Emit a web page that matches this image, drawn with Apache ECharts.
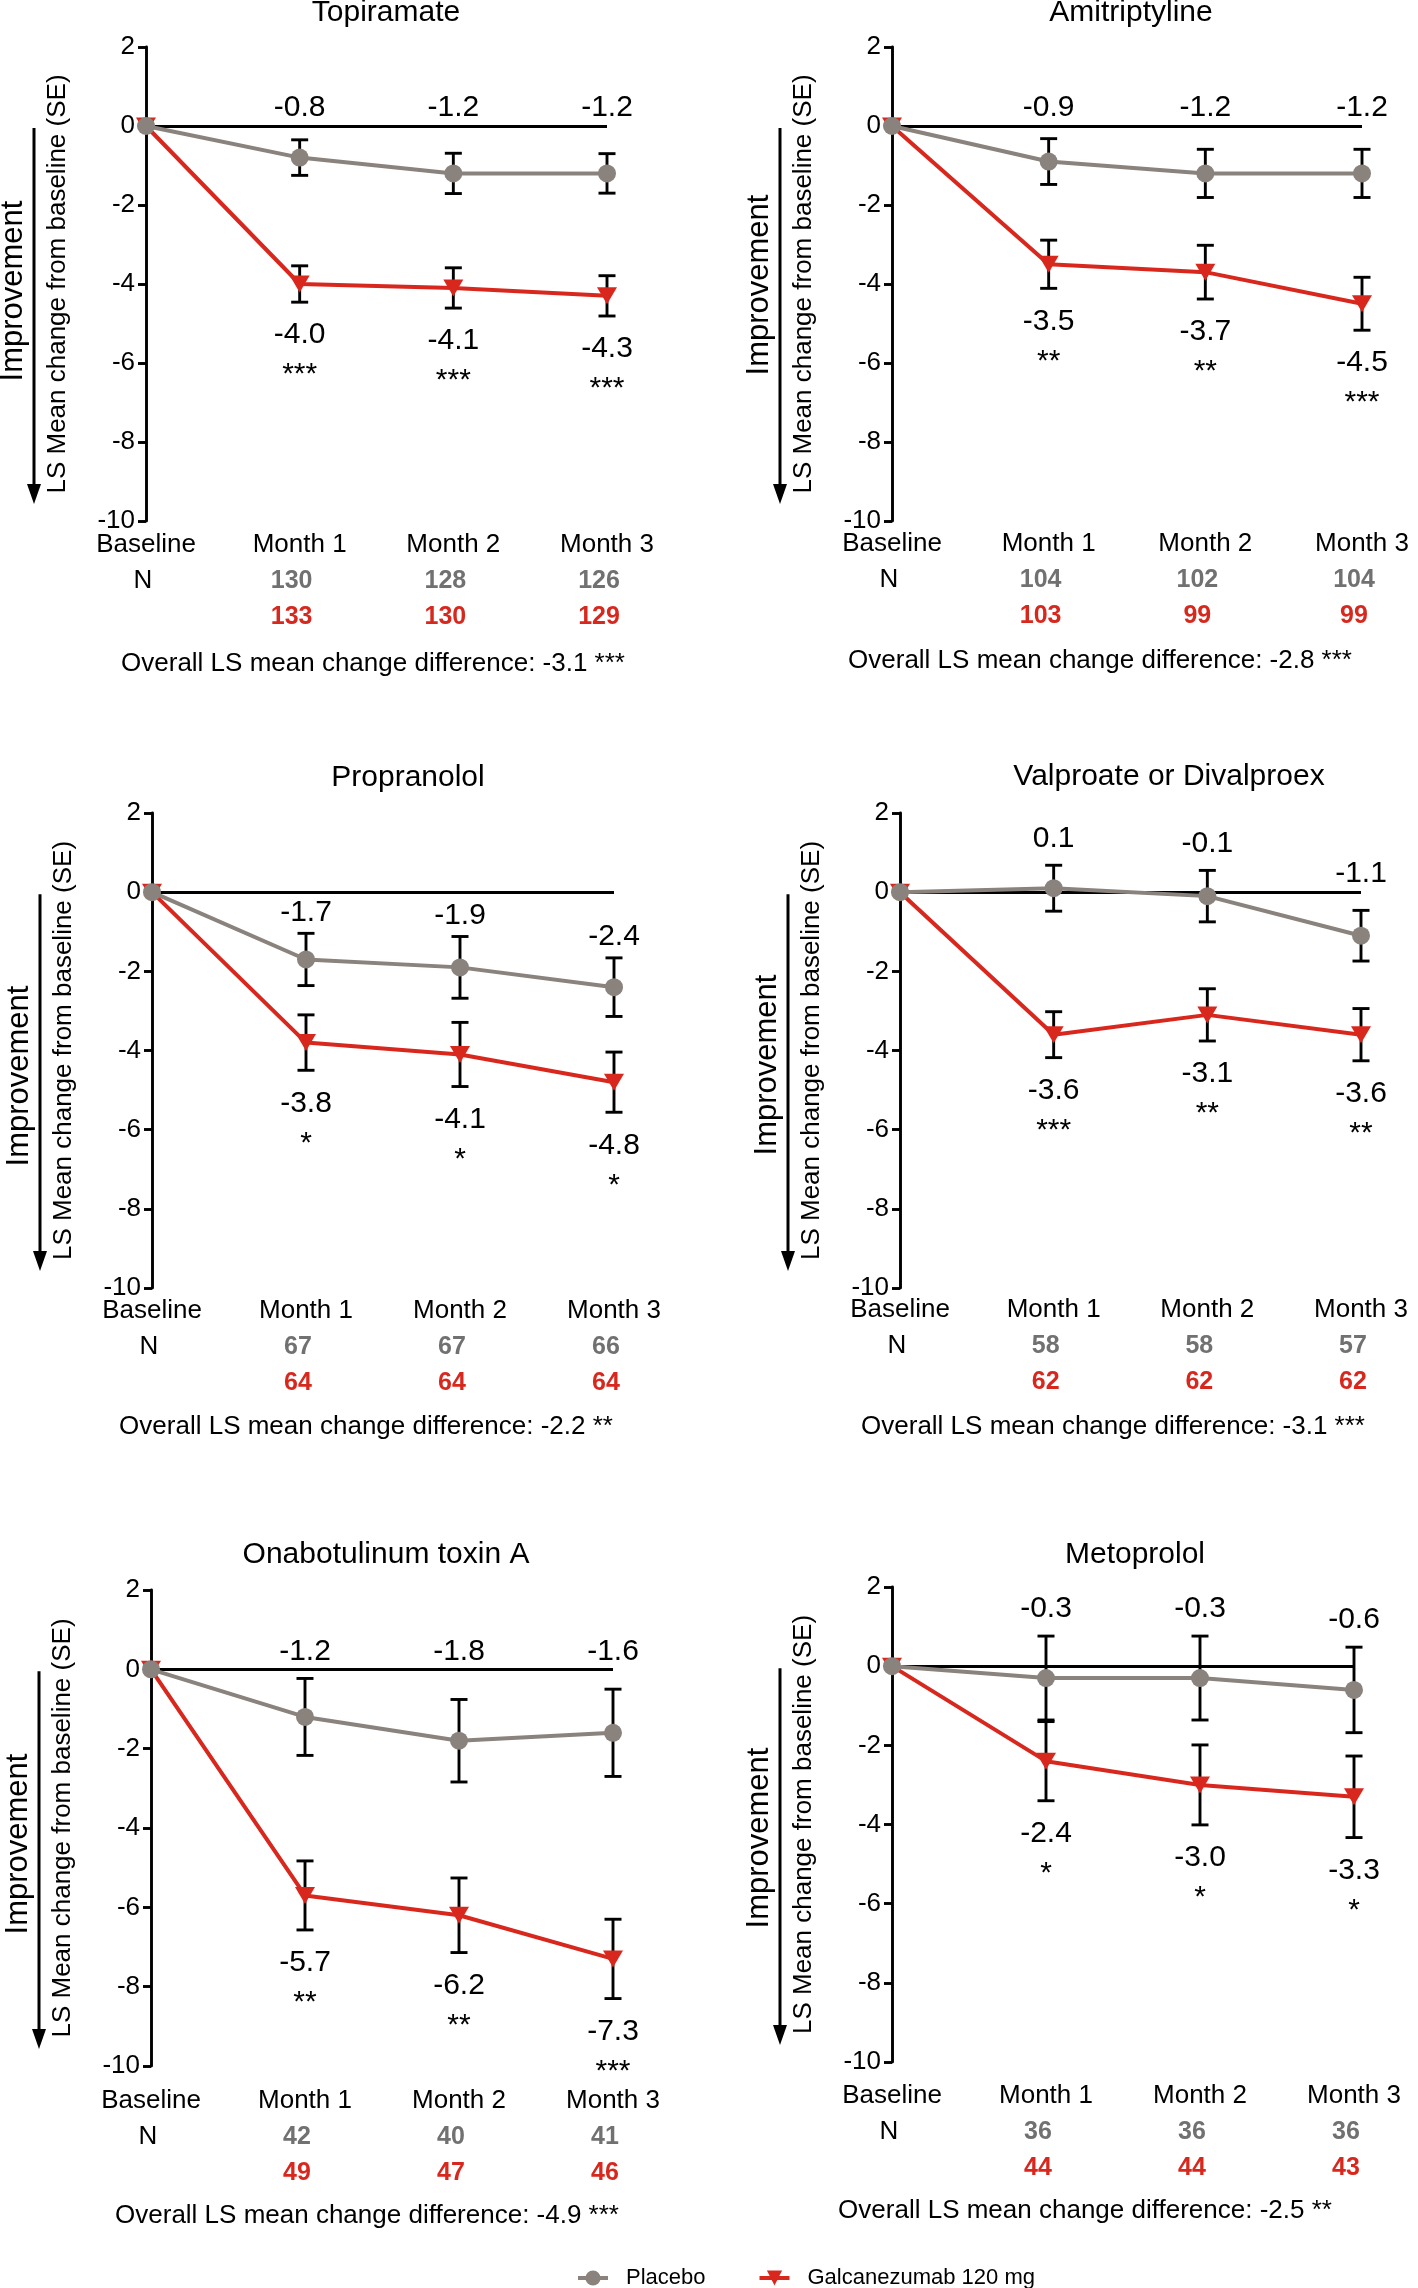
<!DOCTYPE html>
<html>
<head>
<meta charset="utf-8">
<script src="https://cdn.jsdelivr.net/npm/echarts@6/dist/echarts.min.js"></script>
<style>html,body{margin:0;padding:0;background:#fff}#c{width:1418px;height:2288px}</style>
</head>
<body>
<div id="c"></div>
<script>
// ---------------- DATA ----------------
const categories = ['Baseline', 'Month 1', 'Month 2', 'Month 3'];
const panelTitles = ['Topiramate', 'Amitriptyline', 'Propranolol', 'Valproate or Divalproex', 'Onabotulinum toxin A', 'Metoprolol'];
const yMin = -10, yMax = 2, yStep = 2;

const placeboMean = [
  [0, -0.8, -1.2, -1.2],
  [0, -0.9, -1.2, -1.2],
  [0, -1.7, -1.9, -2.4],
  [0, 0.1, -0.1, -1.1],
  [0, -1.2, -1.8, -1.6],
  [0, -0.3, -0.3, -0.6]
];
const placeboSE = [
  [0, 0.45, 0.51, 0.50],
  [0, 0.58, 0.61, 0.61],
  [0, 0.66, 0.78, 0.74],
  [0, 0.58, 0.65, 0.64],
  [0, 0.97, 1.04, 1.10],
  [0, 1.06, 1.06, 1.08]
];
const galcaMean = [
  [0, -4.0, -4.1, -4.3],
  [0, -3.5, -3.7, -4.5],
  [0, -3.8, -4.1, -4.8],
  [0, -3.6, -3.1, -3.6],
  [0, -5.7, -6.2, -7.3],
  [0, -2.4, -3.0, -3.3]
];
const galcaSE = [
  [0, 0.46, 0.51, 0.51],
  [0, 0.61, 0.68, 0.67],
  [0, 0.70, 0.81, 0.76],
  [0, 0.58, 0.66, 0.66],
  [0, 0.87, 0.94, 1.00],
  [0, 1.00, 1.01, 1.03]
];
const significance = [
  ['***', '***', '***'],
  ['**', '**', '***'],
  ['*', '*', '*'],
  ['***', '**', '**'],
  ['**', '**', '***'],
  ['*', '*', '*']
];
const placeboN = [
  [130, 128, 126],
  [104, 102, 104],
  [67, 67, 66],
  [58, 58, 57],
  [42, 40, 41],
  [36, 36, 36]
];
const galcaN = [
  [133, 130, 129],
  [103, 99, 99],
  [64, 64, 64],
  [62, 62, 62],
  [49, 47, 46],
  [44, 44, 43]
];
const overallDiff = ['-3.1 ***', '-2.8 ***', '-2.2 **', '-3.1 ***', '-4.9 ***', '-2.5 **'];
const seriesNames = ['Placebo', 'Galcanezumab 120 mg'];
const yAxisTitle = 'LS Mean change from baseline (SE)';
const improvementText = 'Improvement';

// ---------------- LAYOUT / STYLE ----------------
const FONT = "'Liberation Sans', Arial, Helvetica, sans-serif";
const RED = '#d8281e';
const GRAY = '#8a827c';
const NGRAY = '#717171';
const grids = [
  {left: 146, top: 47, width: 461, height: 474},
  {left: 892, top: 47, width: 470, height: 474},
  {left: 152, top: 813, width: 462, height: 475},
  {left: 900, top: 813, width: 461, height: 475},
  {left: 151, top: 1590, width: 462, height: 476},
  {left: 892, top: 1587, width: 462, height: 475}
];
const titlePos = [[386, 13], [1131, 13], [408, 778], [1169, 777], [386, 1555], [1135, 1555]];
const overallPos = [[373, 664], [1100, 661], [366, 1427], [1113, 1427], [367, 2216], [1085, 2211]];
const improvementY = [291, 285, 1076, 1065, 1844, 1838];
const xLabelMargin = [6, 5, 5, 4, 17, 16];

// ---------------- BUILD ----------------
function errorBarRenderer(kind, panel) {
  return function (params, api) {
    const x = api.value(0), m = api.value(1), se = api.value(2);
    const c = api.coord([x, m]);
    const top = api.coord([x, m + se])[1];
    const bot = api.coord([x, m - se])[1];
    const zero = api.coord([x, 0])[1];
    const cap = 8.5;
    const ls = {stroke: '#000', lineWidth: 2.9};
    const children = [
      {type: 'line', shape: {x1: c[0], y1: top, x2: c[0], y2: bot}, style: ls},
      {type: 'line', shape: {x1: c[0] - cap, y1: top, x2: c[0] + cap, y2: top}, style: ls},
      {type: 'line', shape: {x1: c[0] - cap, y1: bot, x2: c[0] + cap, y2: bot}, style: ls}
    ];
    const txt = m.toFixed(1);
    if (kind === 'placebo') {
      let ly;
      if (top < zero - 2) ly = top - 27;
      else if (top - zero > 36) ly = top - 21;
      else ly = zero - 18;
      children.push({type: 'text', style: {x: c[0], y: ly, text: txt, font: '30px ' + FONT, fill: '#000',
        align: 'center', verticalAlign: 'middle', textAlign: 'center', textVerticalAlign: 'middle'}});
    } else {
      children.push({type: 'text', style: {x: c[0], y: bot + 33, text: txt, font: '30px ' + FONT, fill: '#000',
        align: 'center', verticalAlign: 'middle', textAlign: 'center', textVerticalAlign: 'middle'}});
      children.push({type: 'text', style: {x: c[0], y: bot + 73, text: significance[panel][params.dataIndex],
        font: '30px ' + FONT, fill: '#000',
        align: 'center', verticalAlign: 'middle', textAlign: 'center', textVerticalAlign: 'middle'}});
    }
    return {type: 'group', children: children};
  };
}

const option = {
  animation: false,
  backgroundColor: '#fff',
  textStyle: {fontFamily: FONT},
  grid: [], xAxis: [], yAxis: [], series: [], graphic: [],
  legend: {
    data: seriesNames,
    left: 576, top: 2267,
    padding: 0,
    itemWidth: 30, itemHeight: 19, itemGap: 52,
    lineStyle: {width: 4},
    textStyle: {fontSize: 22, color: '#000', fontFamily: FONT, padding: [0, 0, 0, 13]}
  }
};

for (let i = 0; i < 6; i++) {
  const g = grids[i];
  option.grid.push({left: g.left, top: g.top, width: g.width, height: g.height, containLabel: false});
  option.xAxis.push({
    type: 'category', gridIndex: i, data: categories, boundaryGap: false,
    axisLine: {show: false}, axisTick: {show: false}, splitLine: {show: false},
    axisLabel: {
      interval: 0, margin: xLabelMargin[i], color: '#000',
      formatter: function (value, idx) {
        if (idx === 0) return '{m|' + value + '}\n{n|N}\n{g| }';
        return '{m|' + value + '}\n{p|' + placeboN[i][idx - 1] + '}\n{g|' + galcaN[i][idx - 1] + '}';
      },
      rich: {
        m: {fontSize: 26, color: '#000', lineHeight: 36, fontFamily: FONT},
        n: {fontSize: 26, color: '#000', lineHeight: 36, fontFamily: FONT, padding: [0, 6, 0, 0]},
        p: {fontSize: 25, fontWeight: 'bold', color: NGRAY, lineHeight: 36, fontFamily: FONT, padding: [0, 16, 0, 0]},
        g: {fontSize: 25, fontWeight: 'bold', color: RED, lineHeight: 36, fontFamily: FONT, padding: [0, 16, 0, 0]}
      }
    }
  });
  option.yAxis.push({
    type: 'value', gridIndex: i, min: yMin, max: yMax, interval: yStep,
    axisLine: {show: true, onZero: false, lineStyle: {color: '#000', width: 2.9}},
    axisTick: {show: true, length: 8, lineStyle: {color: '#000', width: 2.9}},
    axisLabel: {fontSize: 26, color: '#000', margin: 11, fontFamily: FONT},
    splitLine: {show: false},
    name: yAxisTitle, nameLocation: 'middle', nameGap: 75,
    nameTextStyle: {fontSize: 26, color: '#000', fontFamily: FONT}
  });
  // error bars + labels
  option.series.push({
    type: 'custom', xAxisIndex: i, yAxisIndex: i, z: 2, clip: false, silent: true,
    data: [1, 2, 3].map(k => [k, galcaMean[i][k], galcaSE[i][k]]),
    renderItem: errorBarRenderer('galca', i)
  });
  option.series.push({
    type: 'custom', xAxisIndex: i, yAxisIndex: i, z: 2, clip: false, silent: true,
    data: [1, 2, 3].map(k => [k, placeboMean[i][k], placeboSE[i][k]]),
    renderItem: errorBarRenderer('placebo', i)
  });
  option.series.push({
    type: 'line', name: seriesNames[1], xAxisIndex: i, yAxisIndex: i, z: 3,
    data: galcaMean[i],
    symbol: 'path://M0,0L20,0L10,17Z', symbolSize: [20, 17], showAllSymbol: true,
    itemStyle: {color: RED}, lineStyle: {color: RED, width: 4}
  });
  option.series.push({
    type: 'line', name: seriesNames[0], xAxisIndex: i, yAxisIndex: i, z: 4,
    data: placeboMean[i],
    symbol: 'circle', symbolSize: 18, showAllSymbol: true,
    itemStyle: {color: GRAY}, lineStyle: {color: GRAY, width: 4},
    markLine: {
      silent: true, symbol: 'none', label: {show: false}, z: 1,
      lineStyle: {color: '#000', width: 2.8, type: 'solid'},
      data: [{yAxis: 0}]
    }
  });

  // titles, overall text, improvement arrow
  option.graphic.push({type: 'text', x: titlePos[i][0], y: titlePos[i][1], silent: true,
    style: {text: panelTitles[i], font: '30px ' + FONT, fill: '#000', align: 'center', verticalAlign: 'middle', textAlign: 'center', textVerticalAlign: 'middle'}});
  option.graphic.push({type: 'text', x: overallPos[i][0], y: overallPos[i][1], silent: true,
    style: {text: 'Overall LS mean change difference: ' + overallDiff[i], font: '26px ' + FONT, fill: '#000', align: 'center', verticalAlign: 'middle', textAlign: 'center', textVerticalAlign: 'middle'}});
  option.graphic.push({type: 'text', x: g.left - 133, y: improvementY[i], rotation: Math.PI / 2, silent: true,
    style: {text: improvementText, font: '31px ' + FONT, fill: '#000', align: 'center', verticalAlign: 'middle', textAlign: 'center', textVerticalAlign: 'middle'}});
  const zeroY = g.top + g.height * (yMax / (yMax - yMin));
  const ax = g.left - 112;
  const y1 = zeroY + 2, y2 = g.top + g.height - 17;
  option.graphic.push({type: 'line', silent: true, shape: {x1: ax, y1: y1, x2: ax, y2: y2 - 14}, style: {stroke: '#000', lineWidth: 3}});
  option.graphic.push({type: 'polygon', silent: true, shape: {points: [[ax - 7, y2 - 20], [ax + 7, y2 - 20], [ax, y2]]}, style: {fill: '#000'}});
}

const chart = echarts.init(document.getElementById('c'), null, {renderer: 'canvas', width: 1418, height: 2288});
chart.setOption(option);
</script>
</body>
</html>
